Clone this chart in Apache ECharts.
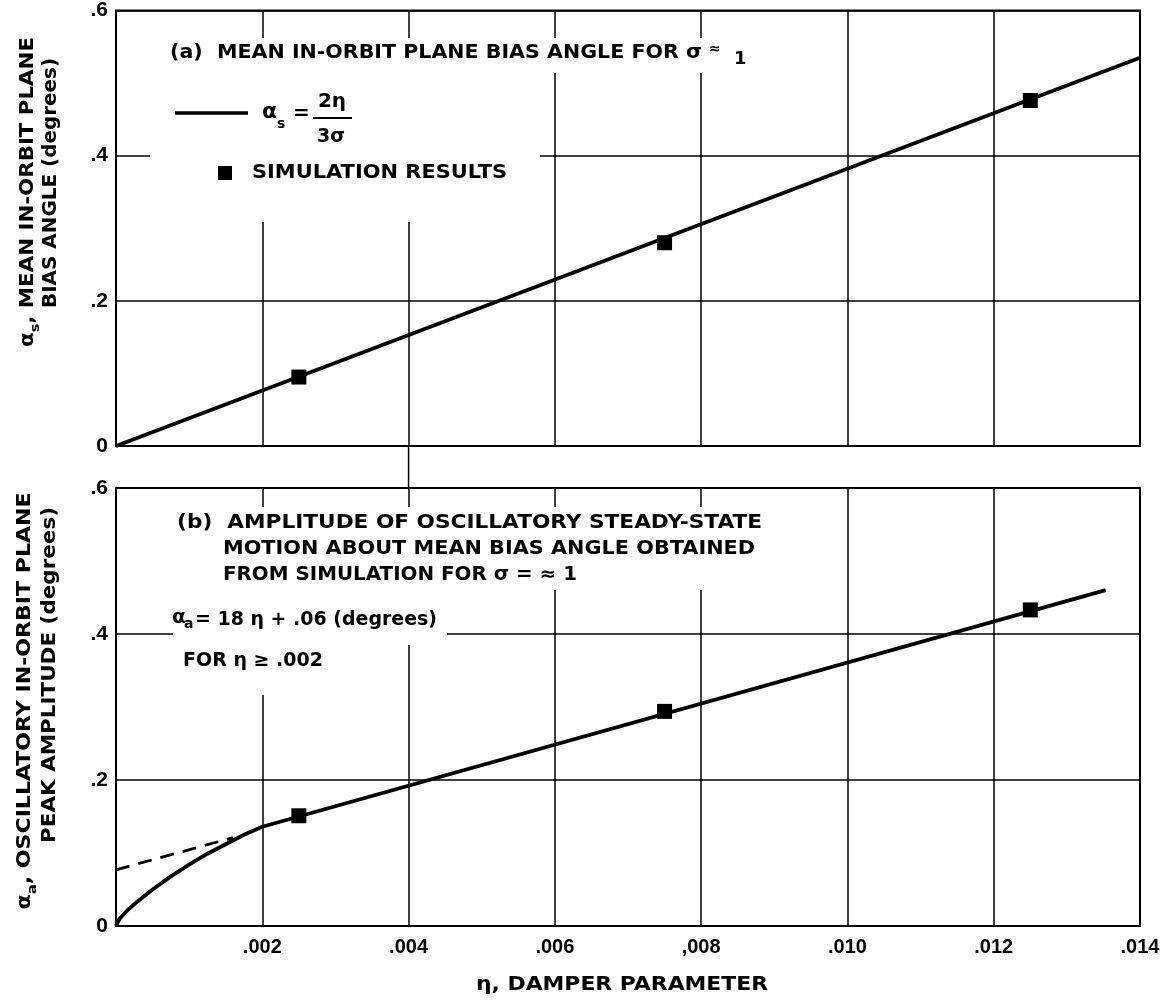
<!DOCTYPE html>
<html><head><meta charset="utf-8">
<script src="https://cdn.jsdelivr.net/npm/echarts@6/dist/echarts.min.js"></script>
<style>html,body{margin:0;padding:0;background:#fff}#c{width:1171px;height:1005px}</style>
</head><body><div id="c"></div>
<script>
// ---- data ----
const xTickLabels = ['', '.002', '.004', '.006', ',008', '.010', '.012', '.014'];
const yTickLabels = ['0', '.2', '.4', '.6'];
const biasLine = [[0, 0], [0.014, 0.535]];
const biasSim = [[0.0025, 0.095], [0.0075, 0.280], [0.0125, 0.476]];
const ampCurve = [[0, 0], [0.00005, 0.010], [0.00015, 0.021], [0.0003, 0.034], [0.0005, 0.050],
  [0.00075, 0.068], [0.001, 0.084], [0.00125, 0.099], [0.0015, 0.112], [0.00175, 0.125],
  [0.002, 0.136], [0.01353, 0.460]];
const ampDashed = [[0, 0.077], [0.0016, 0.121]];
const ampSim = [[0.0025, 0.151], [0.0075, 0.294], [0.0125, 0.433]];

// ---- chart ----
const FONT = 'DejaVu Sans';
const chart = echarts.init(document.getElementById('c'), null, {renderer: 'canvas'});
const splitLine = {show: true, lineStyle: {color: '#000', width: 1.5}};
const gridBox = {show: true, borderColor: '#000', borderWidth: 2, backgroundColor: 'transparent'};
function xAx(gi, showLabel) {
  return {type: 'value', gridIndex: gi, min: 0, max: 0.014, interval: 0.002,
    axisLine: {show: false}, axisTick: {show: false}, splitLine,
    axisLabel: {show: showLabel, showMinLabel: true, showMaxLabel: true,
      formatter: v => xTickLabels[Math.round(v / 0.002)],
      color: '#000', fontFamily: 'Liberation Sans', fontWeight: 'bold', fontSize: 20, margin: 11}};
}
function yAx(gi) {
  return {type: 'value', gridIndex: gi, min: 0, max: 0.6, interval: 0.2,
    axisLine: {show: false}, axisTick: {show: false}, splitLine,
    axisLabel: {showMinLabel: true, showMaxLabel: true,
      formatter: v => yTickLabels[Math.round(v / 0.2)],
      color: '#000', fontFamily: 'Liberation Sans', fontWeight: 'bold', fontSize: 21, margin: 8}};
}
const lineSt = {color: '#000', width: 3.8};
const markSt = {color: '#000', opacity: 1};
chart.setOption({
  animation: false,
  grid: [
    Object.assign({left: 116, top: 9, width: 1024, height: 437}, gridBox),
    Object.assign({left: 116, top: 488, width: 1024, height: 438}, gridBox)
  ],
  xAxis: [xAx(0, false), xAx(1, true)],
  yAxis: [yAx(0), yAx(1)],
  series: [
    {type: 'line', xAxisIndex: 0, yAxisIndex: 0, data: biasLine, symbol: 'none', lineStyle: lineSt, z: 3},
    {type: 'scatter', xAxisIndex: 0, yAxisIndex: 0, data: biasSim, symbol: 'rect', symbolSize: 15,
      itemStyle: markSt, emphasis: {disabled: true}, z: 4},
    {type: 'line', xAxisIndex: 1, yAxisIndex: 1, data: ampCurve, symbol: 'none', smooth: false,
      lineStyle: Object.assign({join: 'round'}, lineSt), z: 3},
    {type: 'line', xAxisIndex: 1, yAxisIndex: 1, data: ampDashed, symbol: 'none',
      lineStyle: {color: '#000', width: 2.8, type: [14, 9]}, z: 3},
    {type: 'scatter', xAxisIndex: 1, yAxisIndex: 1, data: ampSim, symbol: 'rect', symbolSize: 15,
      itemStyle: markSt, emphasis: {disabled: true}, z: 4}
  ]
});

// ---- annotations ----
const mctx = document.createElement('canvas').getContext('2d');
const styles = {n: {size: 19}, s: {size: 13}};
function fontOf(size) { return 'bold ' + size + 'px "' + FONT + '"'; }
function measure(parts) {
  let w = 0;
  parts.forEach(p => { mctx.font = fontOf(styles[p[1]].size); w += mctx.measureText(p[0]).width; });
  return w;
}
const rich = {
  n: {fontFamily: FONT, fontWeight: 'bold', fontSize: 19, lineHeight: 28, verticalAlign: 'middle', fill: '#000', color: '#000'},
  s: {fontFamily: FONT, fontWeight: 'bold', fontSize: 13, lineHeight: 28, verticalAlign: 'bottom', fill: '#000', color: '#000'}
};
function rtext(parts, x, y, w, opts) {
  opts = opts || {};
  const sc = w / measure(parts);
  return {type: 'text', x, y, scaleX: sc, rotation: opts.rot || 0, z: 60,
    style: {text: parts.map(p => '{' + p[1] + '|' + p[0] + '}').join(''), rich,
      textAlign: opts.align || 'left', textVerticalAlign: 'middle', verticalAlign: 'middle'}};
}
function ptext(t, x, y, size, align) {
  return {type: 'text', x, y, z: 60,
    style: {text: t, font: fontOf(size), fill: '#000', textAlign: align || 'left',
      textVerticalAlign: 'middle', verticalAlign: 'middle'}};
}
function wbox(x, y, w, h) {
  return {type: 'rect', z: 50, shape: {x, y, width: w, height: h}, style: {fill: '#fff'}, silent: true};
}
const x004 = chart.convertToPixel({xAxisIndex: 0}, 0.004);
const yTopBottom = chart.convertToPixel({yAxisIndex: 0}, 0);
const yBotTop = chart.convertToPixel({yAxisIndex: 1}, 0.6);
const R = Math.PI / 2;
const elements = [
  // white gaps behind annotation text
  wbox(160, 38, 590, 35),
  wbox(150, 73, 390, 149),
  wbox(165, 507, 603, 83),
  wbox(173, 590, 274, 55),
  wbox(173, 645, 162, 50),
  // connecting grid segment between the two panels
  {type: 'line', z: 5, shape: {x1: x004, y1: yTopBottom, x2: x004, y2: yBotTop},
    style: {stroke: '#000', lineWidth: 1.5}},
  // panel (a)
  rtext([['(a)  MEAN IN-ORBIT PLANE BIAS ANGLE FOR σ', 'n']], 170, 53, 532),
  ptext('≈', 709, 49, 14),
  ptext('1', 734, 59, 18),
  {type: 'line', z: 60, shape: {x1: 175, y1: 113, x2: 248, y2: 113}, style: {stroke: '#000', lineWidth: 3.5}},
  ptext('α', 262, 112, 22),
  ptext('s', 277, 124, 14),
  ptext('=', 293, 114, 20),
  ptext('2η', 332, 102, 20, 'center'),
  {type: 'line', z: 60, shape: {x1: 313, y1: 118, x2: 352, y2: 118}, style: {stroke: '#000', lineWidth: 2}},
  ptext('3σ', 331, 137, 19, 'center'),
  {type: 'rect', z: 60, shape: {x: 218, y: 166, width: 14, height: 14}, style: {fill: '#000'}},
  rtext([['SIMULATION RESULTS', 'n']], 252, 173, 255),
  // panel (b)
  rtext([['(b)  AMPLITUDE OF OSCILLATORY STEADY-STATE', 'n']], 177, 523, 585),
  rtext([['MOTION ABOUT MEAN BIAS ANGLE OBTAINED', 'n']], 223, 549, 532),
  rtext([['FROM SIMULATION FOR σ = ≈ 1', 'n']], 223, 575, 354),
  ptext('α', 172, 618, 20),
  ptext('a', 184, 624, 14),
  rtext([['= 18 η + .06 (degrees)', 'n']], 195, 620, 242),
  rtext([['FOR η ≥ .002', 'n']], 183, 661, 140),
  // axis titles
  rtext([['α', 'n'], ['s', 's'], [', MEAN IN-ORBIT PLANE', 'n']], 28, 192, 310, {rot: R, align: 'center'}),
  rtext([['BIAS ANGLE (degrees)', 'n']], 51, 183, 250, {rot: R, align: 'center'}),
  rtext([['α', 'n'], ['a', 's'], [', OSCILLATORY IN-ORBIT PLANE', 'n']], 25, 701, 417, {rot: R, align: 'center'}),
  rtext([['PEAK AMPLITUDE (degrees)', 'n']], 50, 675, 336, {rot: R, align: 'center'}),
  rtext([['η, DAMPER PARAMETER', 'n']], 476, 985, 292)
];
chart.setOption({graphic: {elements}});
</script>
</body></html>
